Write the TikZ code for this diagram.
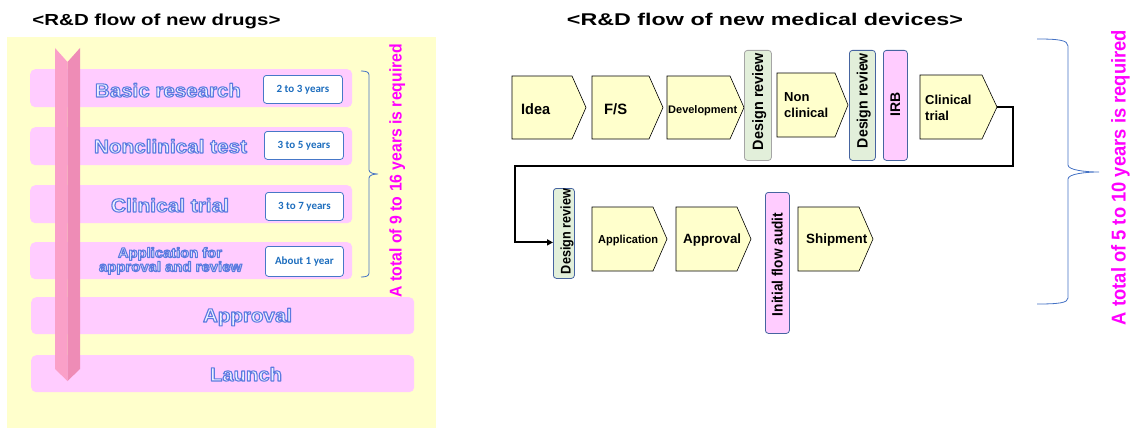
\documentclass[tikz,border=0pt]{standalone}
\usepackage{fontspec}
\setmainfont{Liberation Sans}
\newfontfamily\calibri{Carlito}
\usetikzlibrary{arrows.meta}
\definecolor{bgyellow}{RGB}{255,255,204}
\definecolor{rowpink}{RGB}{255,204,255}
\definecolor{arrowL}{RGB}{250,160,200}
\definecolor{arrowR}{RGB}{238,140,182}
\definecolor{ofill}{RGB}{236,240,255}
\definecolor{yrblue}{RGB}{30,110,190}
\definecolor{boxblue}{RGB}{70,120,200}
\definecolor{brblue}{RGB}{68,114,196}
\definecolor{mag}{RGB}{255,0,255}
\definecolor{pentfill}{RGB}{255,255,204}
\definecolor{drgreen}{RGB}{226,239,218}
\definecolor{drgrey}{RGB}{165,165,165}
\definecolor{edgeblue}{RGB}{70,100,160}
\definecolor{boxpink}{RGB}{255,204,255}
\newcommand\fs[2]{\fontsize{#1}{#2}\selectfont}
\newcommand\fitto[2]{\resizebox{#1pt}{\height}{#2}}
% outlined text: fill + stroke in one copy (PDF text render mode 2)
\newcommand\otxt[1]{\special{pdf:literal direct 2 Tr 1.05 w 1 j 0.36 0.48 0.88 RG}#1\special{pdf:literal direct 0 Tr 0.4 w 0 j}}
\newcommand\pentagon[6]{%
  \draw[pent] (#2,#3) -- (#4,#3) -- (#6,{(#3+#5)/2}) -- (#4,#5) -- (#2,#5) -- cycle;
  \coordinate (#1) at (#6,{(#3+#5)/2});}
\tikzset{
  row/.style={fill=rowpink, draw=none, rounded corners=5pt, inner sep=0, anchor=north west},
  yrbox/.style={draw=boxblue, fill=white, rounded corners=3pt, line width=0.8pt, inner sep=0,
     anchor=north west, font=\calibri\bfseries\fs{11}{13}, text=yrblue},
  otext/.style={anchor=base, inner sep=0, text=ofill, font=\bfseries\fs{19}{22}},
  vtext/.style={rotate=90, anchor=base, inner sep=0, text=mag},
  ptext/.style={anchor=base west, inner sep=0},
  rtext/.style={rotate=90, anchor=base, inner sep=0},
  pent/.style={fill=pentfill, draw=black, line width=0.6pt},
  drbox/.style={fill=drgreen, draw=edgeblue, rounded corners=3pt, line width=0.8pt, inner sep=0, anchor=north west},
  pkbox/.style={fill=boxpink, draw=edgeblue, rounded corners=3pt, line width=0.8pt, inner sep=0, anchor=north west},
  conn/.style={draw=black, line width=2pt, -{Triangle[length=6pt,width=6pt]}},
  brace/.style={draw=brblue, line width=0.8pt},
}
\begin{document}
\begin{tikzpicture}[x=1pt,y=-1pt]
\useasboundingbox (0,0) rectangle (1131,428);
% ---------- left panel ----------
\node[fill=bgyellow, minimum width=429, minimum height=391, inner sep=0, anchor=north west] (bg) at (7,37) {};
\node[font=\bfseries\fs{16}{19}, anchor=base, inner sep=0] (title1) at (156.5,26) {\fitto{248}{<R\&D flow of new drugs>}};
\node[row, minimum width=322, minimum height=38] (r1) at (30,69) {};
\node[row, minimum width=322, minimum height=38] (r2) at (30,127) {};
\node[row, minimum width=322, minimum height=38] (r3) at (30,185) {};
\node[row, minimum width=322, minimum height=37] (r4) at (30,242) {};
\node[row, minimum width=383, minimum height=37] (r5) at (31,297) {};
\node[row, minimum width=383, minimum height=37] (r6) at (31,355) {};
% pink arrow
\fill[arrowL] (55,48) -- (67.5,62) -- (67.5,381) -- (55,369) -- cycle;
\fill[arrowR] (67.5,62) -- (80,48) -- (80,369) -- (67.5,381) -- cycle;
% row labels
\node[otext] (l1) at (168,97) {\fitto{146}{\otxt{Basic research}}};
\node[otext] (l2) at (170.5,153) {\fitto{153}{\otxt{Nonclinical test}}};
\node[otext] (l3) at (170,212) {\fitto{118}{\otxt{Clinical trial}}};
\node[otext, font=\bfseries\fs{14}{16}] (l4a) at (170,257.5) {\fitto{104}{\otxt{Application for}}};
\node[otext, font=\bfseries\fs{14}{16}] (l4b) at (170.5,271.5) {\fitto{143}{\otxt{approval and review}}};
\node[otext] (l5) at (247.5,322) {\fitto{89}{\otxt{Approval}}};
\node[otext] (l6) at (246,381) {\fitto{72}{\otxt{Launch}}};
% year boxes
\node[yrbox, minimum width=79, minimum height=28] (y1) at (263,75) {2 to 3 years};
\node[yrbox, minimum width=79, minimum height=28] (y2) at (264,131) {3 to 5 years};
\node[yrbox, minimum width=78, minimum height=28] (y3) at (265,192) {3 to 7 years};
\node[yrbox, minimum width=78, minimum height=30] (y4) at (265,246) {About 1 year};
% brace and total
\draw[brace] (361,71) .. controls (366,71) and (369,72) .. (369,75) -- (369,170)
  .. controls (369,173) and (374,174) .. (378,174) .. controls (374,174) and (369,175) .. (369,178)
  -- (369,273) .. controls (369,276) and (366,277) .. (361,277);
\node[vtext, font=\bfseries\fs{17}{20}] (tot1) at (401.5,170.5) {\fitto{253}{A total of 9 to 16 years is required}};
% ---------- right panel ----------
\node[font=\bfseries\fs{17}{20}, anchor=base, inner sep=0] (title2) at (765,26) {\fitto{396}{<R\&D flow of new medical devices>}};
\pentagon{pIdea}{512}{76}{572}{139}{586}
\pentagon{pFS}{592}{76}{649}{139}{663}
\pentagon{pDev}{667}{76}{730}{139}{744}
\pentagon{pNon}{777}{73}{835}{137}{848}
\pentagon{pCT}{920}{75}{982}{139}{997}
\pentagon{pApp}{592}{207}{653}{271}{667}
\pentagon{pApv}{676}{207}{737}{271}{751}
\pentagon{pShip}{798}{207}{859}{271}{873}
\node[drbox, draw=drgrey, minimum width=27, minimum height=110] (dr1) at (744,50) {};
\node[drbox, minimum width=26, minimum height=110] (dr2) at (849,50) {};
\node[pkbox, minimum width=24, minimum height=110] (irb) at (883,50) {};
\node[drbox, minimum width=21, minimum height=90] (dr3) at (553,188) {};
\node[pkbox, minimum width=24, minimum height=141] (ifa) at (765,192) {};
% texts
\node[ptext, font=\bfseries\fs{15}{18}] (tIdea) at (521,114) {\fitto{29}{Idea}};
\node[ptext, font=\bfseries\fs{15}{18}] (tFS) at (604,114) {\fitto{23}{F/S}};
\node[ptext, font=\bfseries\fs{11}{13}] (tDev) at (668,113) {\fitto{69}{Development}};
\node[anchor=west, inner sep=0, align=left, font=\bfseries\fs{13}{16}] (tNon) at (784,105) {Non\\clinical};
\node[anchor=west, inner sep=0, align=left, font=\bfseries\fs{13}{16}] (tCT) at (925,108.3) {Clinical\\trial};
\node[ptext, font=\bfseries\fs{11.5}{14}] (tApp) at (598,243) {\fitto{60}{Application}};
\node[ptext, font=\bfseries\fs{13.4}{16}] (tApv) at (683,243) {\fitto{58}{Approval}};
\node[ptext, font=\bfseries\fs{13.4}{16}] (tShip) at (806,243) {\fitto{61}{Shipment}};
\node[rtext, font=\bfseries\fs{15}{18}] (tDr1) at (763,101.5) {\fitto{97}{Design review}};
\node[rtext, font=\bfseries\fs{15}{18}] (tDr2) at (867.5,100.5) {\fitto{95}{Design review}};
\node[rtext, font=\bfseries\fs{14}{17}] (tIrb) at (900,104) {IRB};
\node[rtext, font=\bfseries\fs{14}{17}] (tDr3) at (570.5,231.5) {\fitto{85}{Design review}};
\node[rtext, font=\bfseries\fs{15}{18}] (tIfa) at (782.5,264.5) {\fitto{103}{Initial flow audit}};
% connector
\coordinate (c1) at (1013,166);
\coordinate (c2) at (515,166);
\draw[conn] (pCT) -| (c1) -- (c2) |- ([yshift=-9pt]dr3.west);
% right brace and total
\draw[brace] (1037,39) .. controls (1058,39) and (1068,40) .. (1068,46) -- (1068,165)
  .. controls (1068,170) and (1085,172) .. (1099,172) .. controls (1085,172) and (1068,174) .. (1068,179)
  -- (1068,298) .. controls (1068,303) and (1058,304) .. (1037,304);
\node[vtext, font=\bfseries\fs{20}{24}] (tot2) at (1125.5,177.5) {\fitto{295}{A total of 5 to 10 years is required}};
\end{tikzpicture}
\end{document}
